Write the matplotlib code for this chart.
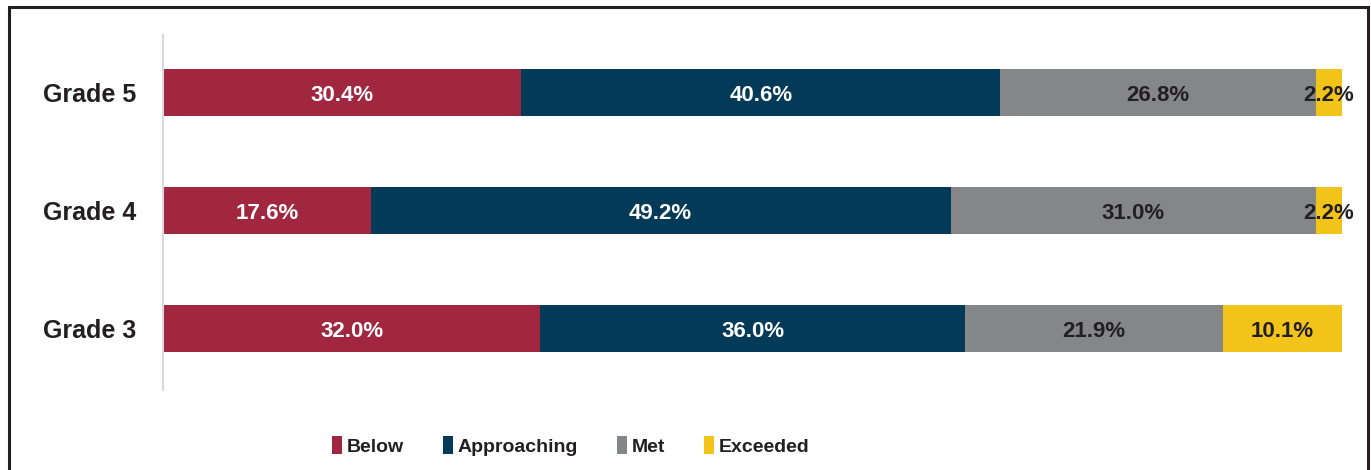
import numpy as np
import matplotlib.pyplot as plt
from matplotlib.patches import Rectangle

# data
grades = ['Grade 3', 'Grade 4', 'Grade 5']
levels = ['Below', 'Approaching', 'Met', 'Exceeded']
below = [32.0, 17.6, 30.4]
approaching = [36.0, 49.2, 40.6]
met = [21.9, 31.0, 26.8]
exceeded = [10.1, 2.2, 2.2]

colors = ['#A0273F', '#023A58', '#858688', '#F2C318']
text_colors = ['white', 'white', '#231F20', '#231F20']

plt.rcParams['font.family'] = ['Liberation Sans', 'DejaVu Sans']

fig = plt.figure(figsize=(13.71, 4.70), dpi=100)
ax = fig.add_axes([163/1371, 1-390/470, 1179/1371, 355/470])

series = [below, approaching, met, exceeded]
y = np.arange(len(grades))
left = np.zeros(len(grades))
for vals, name, c, tc in zip(series, levels, colors, text_colors):
    vals = np.array(vals)
    ax.barh(y, vals, left=left, height=0.4, color=c, label=name)
    for yi, l, v in zip(y, left, vals):
        ax.text(l + v/2, yi - 0.02, '{:.1f}%'.format(v), ha='center', va='center',
                color=tc, fontsize=16, fontweight='bold')
    left = left + vals

ax.set_xlim(0, 100)
ax.set_ylim(-0.52, 2.49)
ax.set_xticks([])
ax.set_yticks(y)
ax.set_yticklabels(grades, fontsize=18, fontweight='bold', color='#231F20')
ax.tick_params(axis='y', length=0, pad=19)
for s in ['top', 'right', 'bottom']:
    ax.spines[s].set_visible(False)
ax.spines['left'].set_color('#D9D9D9')
ax.spines['left'].set_linewidth(1.5)

leg = fig.legend(loc='center', bbox_to_anchor=(571/1371, 1-446/470), ncol=4,
                 frameon=False, handlelength=0.5, handleheight=1.0,
                 handletextpad=0.26, columnspacing=2.0,
                 prop={'weight': 'bold', 'size': 14})
for t in leg.get_texts():
    t.set_color('#231F20')

# outer frame
fig.patches.append(Rectangle((9/1371, -0.1), 1359/1371, 1.1 - 7/470,
                             transform=fig.transFigure, fill=False,
                             edgecolor='#231F20', linewidth=2.2))

plt.savefig('out.png', dpi=100)
